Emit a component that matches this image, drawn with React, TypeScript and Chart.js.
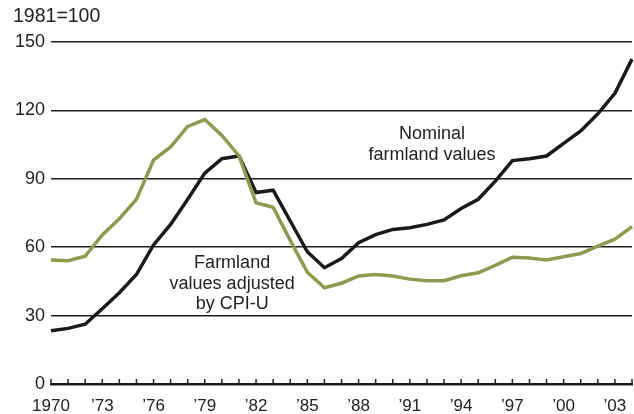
import React, { useEffect, useRef } from 'react';
import { Chart, registerables } from 'chart.js';

Chart.register(...registerables);

const years = [
  '1970', '1971', '1972', '1973', '1974', '1975', '1976', '1977', '1978', '1979',
  '1980', '1981', '1982', '1983', '1984', '1985', '1986', '1987', '1988', '1989',
  '1990', '1991', '1992', '1993', '1994', '1995', '1996', '1997', '1998', '1999',
  '2000', '2001', '2002', '2003', '2004',
];

const tickLabels = [
  '1970', '', '', '’73', '', '', '’76', '', '', '’79',
  '', '', '’82', '', '', '’85', '', '', '’88', '',
  '', '’91', '', '', '’94', '', '', '’97', '', '',
  '’00', '', '', '’03', '',
];

const nominal = [
  23.4, 24.4, 26.2, 33, 40, 48, 61, 70, 81, 92.5,
  98.8, 100, 84, 85, 71.5, 58, 51, 55, 62, 65.5,
  67.8, 68.5, 70, 72, 77, 81, 89, 98, 98.8, 100,
  105.5, 111, 118.5, 127.5, 142.5,
];

const adjusted = [
  54.4, 54.1, 56, 65.4, 72.5, 81, 98.2, 104, 113, 116,
  109, 100, 79.5, 77.5, 63, 49, 42.2, 44.2, 47.4, 48,
  47.4, 46, 45.3, 45.3, 47.5, 48.8, 52, 55.6, 55.3, 54.4,
  55.8, 57.2, 60.5, 63.5, 69,
];

const yTicks = [0, 30, 60, 90, 120, 150];

const annotationNominal = ['Nominal', 'farmland values'];
const annotationAdjusted = ['Farmland', 'values adjusted', 'by CPI-U'];

const TEXT = '#222222';
const FONT = '"Liberation Sans", Arial, Helvetica, sans-serif';

const upTicksPlugin = {
  id: 'upTicks',
  afterDatasetsDraw(chart: any) {
    const { ctx, chartArea, scales } = chart;
    const xs = scales.x;
    ctx.save();
    ctx.strokeStyle = TEXT;
    ctx.lineWidth = 1.5;
    for (let i = 0; i < years.length; i++) {
      const x = xs.getPixelForValue(i);
      ctx.beginPath();
      ctx.moveTo(x, chartArea.bottom);
      ctx.lineTo(x, chartArea.bottom - 5);
      ctx.stroke();
    }
    ctx.restore();
  },
};

const annotationPlugin = {
  id: 'annot',
  afterDraw(chart: any) {
    const { ctx, scales } = chart;
    const xs = scales.x;
    const ys = scales.y;
    ctx.save();
    ctx.fillStyle = TEXT;
    ctx.font = `18px ${FONT}`;
    ctx.textAlign = 'center';
    ctx.textBaseline = 'middle';
    const drawBlock = (lines: string[], xi: number, yv: number) => {
      const x = xs.getPixelForValue(xi);
      const y0 = ys.getPixelForValue(yv);
      lines.forEach((t, k) => ctx.fillText(t, x, y0 + k * 20.5));
    };
    drawBlock(annotationNominal, 22.3, 109.6);
    drawBlock(annotationAdjusted, 10.6, 53);
    ctx.restore();
  },
};

export default function App() {
  const ref = useRef<HTMLCanvasElement | null>(null);

  useEffect(() => {
    if (!ref.current) return;
    const chart = new Chart(ref.current, {
      type: 'line',
      data: {
        labels: years,
        datasets: [
          {
            label: 'Farmland values adjusted by CPI-U',
            data: adjusted,
            borderColor: '#8d9a50',
            borderWidth: 3.5,
            pointRadius: 0,
            tension: 0,
            borderJoinStyle: 'miter',
            fill: false,
          },
          {
            label: 'Nominal farmland values',
            data: nominal,
            borderColor: '#1a1a1a',
            borderWidth: 3.5,
            pointRadius: 0,
            tension: 0,
            borderJoinStyle: 'miter',
            fill: false,
          },
        ],
      },
      options: {
        responsive: false,
        animation: false,
        layout: { padding: { left: 13, right: 2, top: 0, bottom: 0 } },
        plugins: {
          legend: { display: false },
          tooltip: { enabled: false },
          title: {
            display: true,
            text: '1981=100',
            align: 'start',
            color: TEXT,
            font: { family: FONT, size: 19.5, weight: 'normal' },
            padding: { top: 5, bottom: 13.6 },
          },
        },
        scales: {
          x: {
            type: 'category',
            offset: false,
            grid: { display: false, drawTicks: false },
            border: { display: true, color: '#1a1a1a', width: 2.5 },
            ticks: {
              autoSkip: false,
              maxRotation: 0,
              minRotation: 0,
              padding: 12,
              color: TEXT,
              font: { family: FONT, size: 17 },
              callback: (_v: any, i: number) => tickLabels[i],
            },
            afterFit: (s: any) => {
              s.height = 30;
              s.paddingRight = 0;
              s.paddingLeft = 0;
            },
          },
          y: {
            min: 0,
            max: 150,
            afterBuildTicks: (s: any) => { s.ticks = yTicks.map((v) => ({ value: v })); },
            grid: { color: '#1f1f1f', lineWidth: 1.5, drawTicks: false },
            border: { display: false },
            ticks: {
              padding: 6,
              color: TEXT,
              font: { family: FONT, size: 18 },
            },
            afterFit: (s: any) => { s.width = 38; },
          },
        },
      },
      plugins: [upTicksPlugin, annotationPlugin],
    } as any);
    return () => chart.destroy();
  }, []);

  return (
    <div style={{ position: 'absolute', left: 0, top: 0, width: 634, height: 414, background: '#fff' }}>
      <canvas ref={ref} width={634} height={414} />
    </div>
  );
}
